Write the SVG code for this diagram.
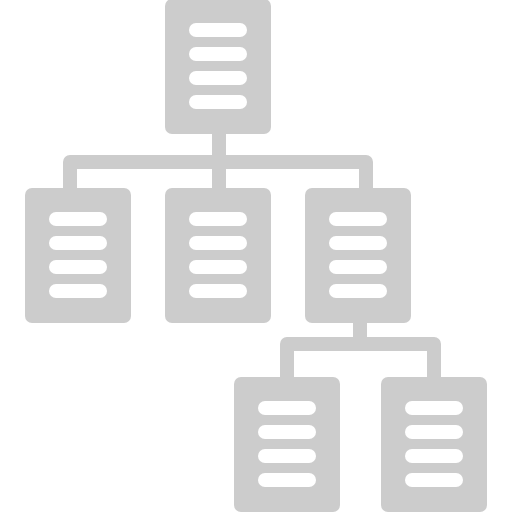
<svg xmlns="http://www.w3.org/2000/svg" width="512" height="512" viewBox="0 0 512 512">
<style>
.box{fill:#cccccc}
.ln{fill:#ffffff}
.conn{fill:none;stroke:#cccccc;stroke-width:14;stroke-linejoin:round}
</style>
<defs>
<g id="doc">
<rect class="box" x="0" y="0" width="106" height="135" rx="7"/>
<rect class="ln" x="24" y="24" width="58" height="14" rx="7"/>
<rect class="ln" x="24" y="48" width="58" height="14" rx="7"/>
<rect class="ln" x="24" y="72" width="58" height="14" rx="7"/>
<rect class="ln" x="24" y="96" width="58" height="14" rx="7"/>
</g>
</defs>
<g id="connectors">
<path class="conn" d="M219,130 V192 M70,192 V162 H366 V192"/>
<path class="conn" d="M360,318 V344 M287,381 V344 H434 V381"/>
</g>
<g id="root"><use href="#doc" x="165" y="-1"/></g>
<g id="child1"><use href="#doc" x="25" y="188"/></g>
<g id="child2"><use href="#doc" x="165" y="188"/></g>
<g id="child3"><use href="#doc" x="305" y="188"/></g>
<g id="grandchild1"><use href="#doc" x="234" y="377"/></g>
<g id="grandchild2"><use href="#doc" x="381" y="377"/></g>
</svg>
